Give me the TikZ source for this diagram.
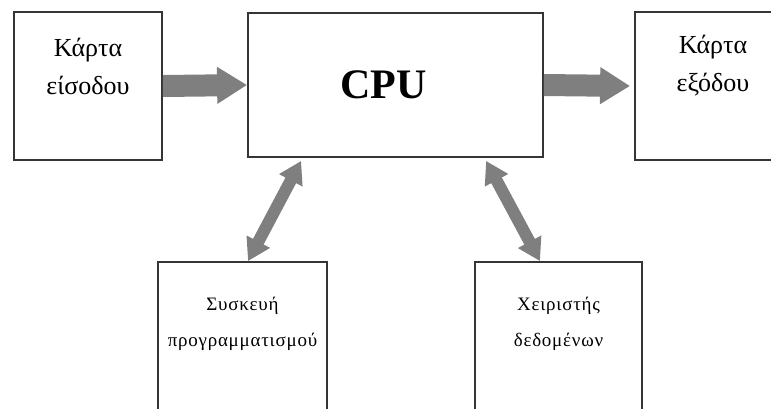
\documentclass[tikz,border=0pt]{standalone}
\usepackage{fontspec}
\setmainfont{Liberation Serif}
\newfontfamily\spaced[LetterSpace=4]{Liberation Serif}
\usetikzlibrary{arrows.meta,positioning}
\definecolor{Frame}{HTML}{353535}
\definecolor{Pipe}{HTML}{7F7F7F}

\begin{document}
\begin{tikzpicture}[
  x=1pt,y=-1pt,
  box/.style={draw=Frame,line width=1.8pt,fill=white,inner sep=0pt},
  card/.style={box,minimum width=148pt,minimum height=148pt},
  unit/.style={box,minimum width=169pt,minimum height=180pt},
  big/.style={font=\fontsize{26}{38}\selectfont,align=center},
  small/.style={font=\spaced\fontsize{19}{36}\selectfont,align=center},
  flow/.style={Pipe,line width=22pt,-{Triangle[width=35pt,length=30pt]}},
  link/.style={Pipe,line width=12pt,{Triangle[width=25pt,length=22pt]}-{Triangle[width=25pt,length=22pt]}}
]
  \path[use as bounding box,clip] (0,0) rectangle (771,408);

  % top row
  \node[card,label={[big,name=inlbl,yshift=20pt]center:{Κάρτα\\είσοδου}}] (in) at (88,86) {};
  \node[box,minimum width=295pt,minimum height=144pt,
        label={[name=cpulbl,xshift=-12pt,font=\fontsize{42}{42}\selectfont\bfseries]center:CPU}] (cpu) at (395.5,85) {};
  \node[card,minimum width=150pt,label={[big,name=outlbl,xshift=3pt,yshift=20pt]center:{Κάρτα\\εξόδου}}] (out) at (710,86) {};

  % bottom row
  \node[unit,label={[small,name=proglbl,yshift=28pt]center:{Συσκευή\\προγραμματισμού}}] (prog) at (242.5,352) {};
  \node[unit,minimum width=167pt,label={[small,name=datalbl,yshift=28pt]center:{Χειριστής\\δεδομένων}}] (data) at (558.5,352) {};

  % data paths
  \draw[flow] (in.east) -- (cpu.west);
  \draw[flow] (cpu.east) -- ([xshift=-4pt]out.west);
  \draw[link] ([xshift=54pt,yshift=-3pt]cpu.south west) -- ([xshift=5.5pt]prog.north);
  \draw[link] ([xshift=239pt,yshift=-3pt]cpu.south west) -- ([xshift=-18.5pt]data.north);
\end{tikzpicture}
\end{document}
